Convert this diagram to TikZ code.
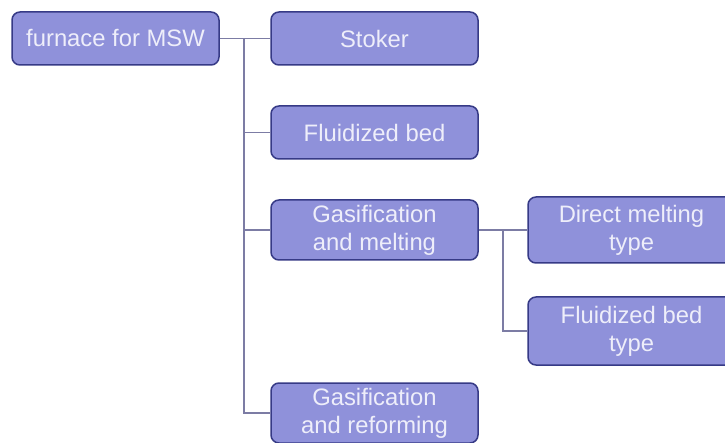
\documentclass[tikz,border=0pt]{standalone}
\usepackage{fontspec}
\setmainfont{Liberation Sans}
\definecolor{boxfill}{HTML}{8F91DA}
\definecolor{boxline}{HTML}{363A86}
\definecolor{boxtext}{HTML}{EEEEFA}
\definecolor{linkline}{HTML}{7C7CA4}
\begin{document}
\begin{tikzpicture}[x=1pt, y=-1pt,
  every node/.style={font=\fontsize{23.8}{28}\selectfont, text=boxtext},
  kind/.style={draw=boxline, fill=boxfill, line width=1.5pt, rounded corners=8pt,
    minimum width=207pt, inner sep=0pt, align=center},
  link/.style={draw=linkline, line width=1.2pt}]
  \clip (0,0) rectangle (725,443);
  \fill[white] (0,0) rectangle (725,443);
  % first level: root on the left, four kinds on the right
  \node[kind, minimum height=53pt] (root) at (115.5,38.5) {furnace for MSW};
  \node[kind, minimum height=53pt] (stoker) at (374.5,38.5) {Stoker};
  \node[kind, minimum height=53pt] (fluid) at (374.5,132.5) {Fluidized bed};
  \node[kind, minimum height=60pt] (melt) at (374.5,230) {Gasification\\and melting};
  \node[kind, minimum height=60pt] (reform) at (374.5,413) {Gasification\\and reforming};
  % second level under gasification and melting
  \node[kind, minimum height=66pt] (direct) at (631.5,230) {Direct melting\\type};
  \node[kind, minimum height=68pt] (fbtype) at (631.5,331) {Fluidized bed\\type};
  \coordinate (j1) at (244,38.5);
  \coordinate (j2) at (503,230);
  \draw[link] (root.east) -- (stoker.west);
  \draw[link] (j1) |- (fluid.west); \draw[link] (j1) |- (melt.west); \draw[link] (j1) |- (reform.west);
  \draw[link] (melt.east) -- (direct.west);
  \draw[link] (j2) |- (fbtype.west);
\end{tikzpicture}
\end{document}
